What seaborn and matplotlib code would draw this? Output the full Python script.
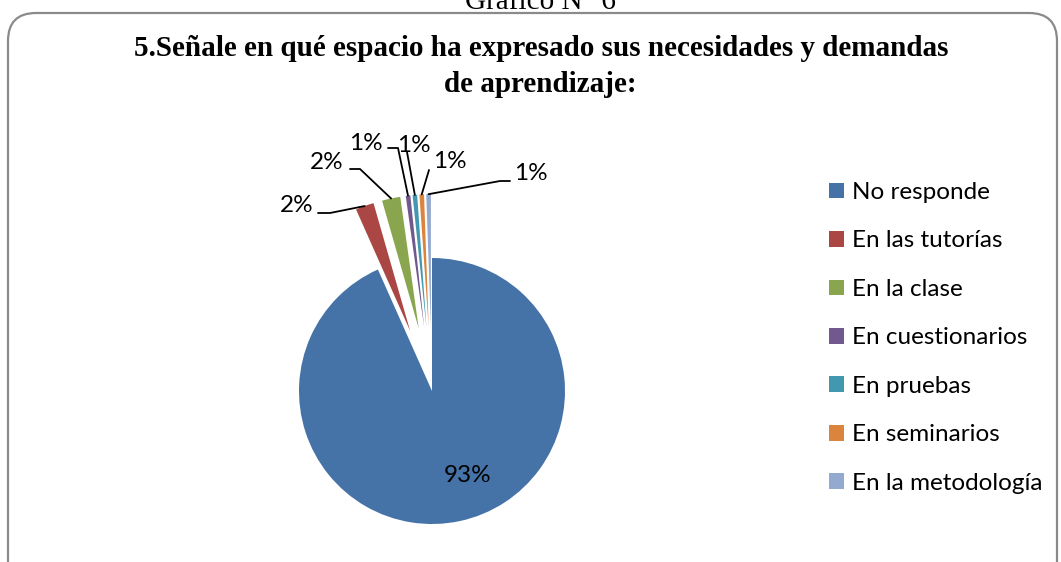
import matplotlib
matplotlib.use("Agg")
import matplotlib.pyplot as plt
import seaborn as sns
import numpy as np
from matplotlib.patches import FancyBboxPatch

# ---- data ----
categories = ["No responde", "En las tutorías", "En la clase", "En cuestionarios",
              "En pruebas", "En seminarios", "En la metodología"]
counts = [168, 4, 4, 1, 1, 1, 1]
colors = ["#4572A7", "#AA4643", "#89A54E", "#71588F", "#4198AF", "#DB843D", "#93A9CF"]
title_lines = ["5.Señale en qué espacio ha expresado sus necesidades y demandas",
               "de aprendizaje:"]
caption = "Gráfico N° 6"

# ---- style ----
sns.set_theme(style="white")
plt.rcParams["font.family"] = ["Lato", "DejaVu Sans"]
plt.rcParams["text.color"] = "black"
palette = sns.color_palette(colors)

W, H = 1061, 562
fig = plt.figure(figsize=(W / 100, H / 100), dpi=100)

# pie axes: centre at pixel (432, 391), radius 133 px
R = 133.0
cx_px, cy_px = 432, 391
left_px, right_px, top_px, bot_px = 150, 714, 100, 545
ax = fig.add_axes([left_px / W, (H - bot_px) / H, (right_px - left_px) / W, (bot_px - top_px) / H])

explode = [0.0] + [0.48] * (len(counts) - 1)
wedges, _ = ax.pie(counts, colors=palette, explode=explode, startangle=90,
                   counterclock=False, radius=1.0, wedgeprops=dict(linewidth=0))
ax.set_xlim((left_px - cx_px) / R, (right_px - cx_px) / R)
ax.set_ylim((cy_px - bot_px) / R, (cy_px - top_px) / R)
ax.set_axis_off()


def p2d(px, py):
    return (px - cx_px) / R, (cy_px - py) / R


total = sum(counts)
pct = [f"{int(np.floor(c / total * 100 + 0.5))}%" for c in counts]

# label layout (pixel positions): label centre, line start, elbow
label_layout = {
    1: ((297, 206), (318, 213), (330, 213)),
    2: ((327, 162), (350, 169), (360, 169)),
    3: ((366, 143), (388, 148), (398, 148)),
    4: ((414, 145), (407, 152), (407, 152)),
    5: ((450, 161), (429, 170), (429, 170)),
    6: ((531, 173), (510, 181), (500, 181)),
}
fs = 17.5
for i, (lab, start, elbow) in label_layout.items():
    w = wedges[i]
    th = np.deg2rad((w.theta1 + w.theta2) / 2)
    wx, wy = w.center
    ex, ey = wx + np.cos(th) * w.r, wy + np.sin(th) * w.r
    sx, sy = p2d(*start)
    bx, by = p2d(*elbow)
    ax.plot([sx, bx, ex], [sy, by, ey], color="black", lw=1.3, clip_on=False)
    lx, ly = p2d(*lab)
    ax.text(lx, ly, pct[i], ha="center", va="center", fontsize=fs, color="black")

# main slice label
mx, my = p2d(468, 475)
ax.text(mx, my, pct[0], ha="center", va="center", fontsize=fs, color="black")

# legend
leg = fig.legend(wedges, categories, loc="upper left", bbox_to_anchor=(829 / W, 1 - 182 / H),
                 frameon=False, fontsize=fs, handlelength=0.62, handleheight=0.62,
                 handletextpad=0.33, labelspacing=1.13, borderaxespad=0, borderpad=0)
for t in leg.get_texts():
    t.set_color("black")

# titles
fig.text(541 / W, 1 - 49 / H, title_lines[0], ha="center", va="center", color="black",
         fontfamily="Liberation Serif", fontweight="bold", fontsize=21)
fig.text(540 / W, 1 - 85 / H, title_lines[1], ha="center", va="center", color="black",
         fontfamily="Liberation Serif", fontweight="bold", fontsize=21)
fig.text(540 / W, 1 - 9 / H, caption, ha="center", va="baseline", color="black",
         fontfamily="Liberation Serif", fontsize=21)

# rounded frame
frame = FancyBboxPatch((8 / 100, -1.0), (1057 - 8) / 100, (H - 13) / 100 + 1.0,
                       boxstyle="round,pad=0,rounding_size=0.28",
                       transform=fig.dpi_scale_trans, facecolor="none",
                       edgecolor="#8a8a8a", linewidth=1.6)
fig.add_artist(frame)

fig.savefig("out.png", dpi=100)
